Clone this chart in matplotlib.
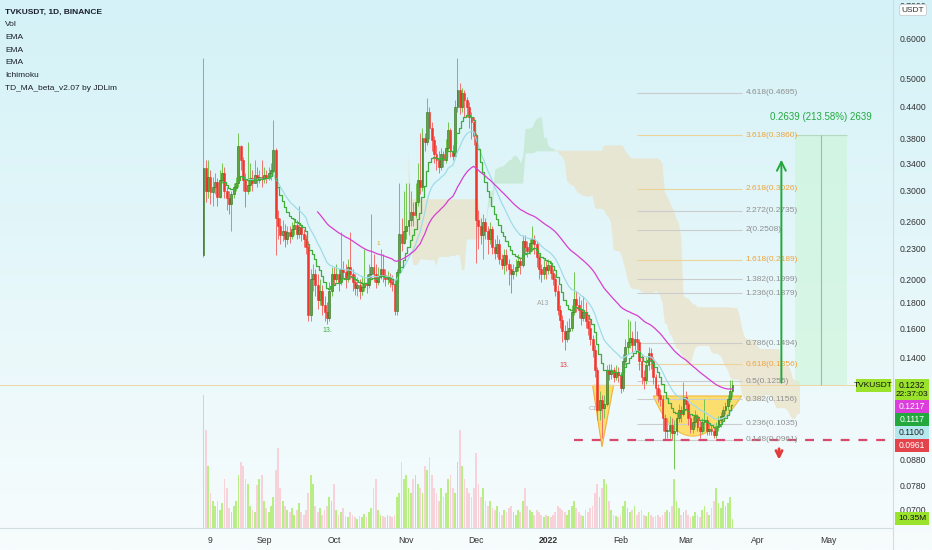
import numpy as np
import pandas as pd
import matplotlib
matplotlib.use("Agg")
import matplotlib.pyplot as plt
import matplotlib.dates as mdates
from matplotlib.patches import Rectangle, Polygon
from matplotlib.colors import LinearSegmentedColormap

plt.rcParams['font.family'] = ['Liberation Sans Narrow', 'Liberation Sans', 'DejaVu Sans']

# daily candles, TVKUSDT 1D (Binance), starting 2021-08-06
start_date = "2021-08-06"
first_open = 0.224

closes = [
    0.333, 0.300, 0.320, 0.298, 0.305, 0.312, 0.292, 0.315, 0.325, 0.300, 0.290, 0.282, 0.295,
    0.305, 0.310, 0.368, 0.345, 0.315, 0.300, 0.308, 0.318, 0.310, 0.322, 0.315, 0.320, 0.316,
    # Sep
    0.322, 0.318, 0.325, 0.330, 0.362, 0.265, 0.255, 0.245, 0.250, 0.240, 0.248, 0.244, 0.252, 0.256, 0.246,
    0.254, 0.246, 0.240, 0.232, 0.170, 0.200, 0.205, 0.195, 0.182, 0.190, 0.178, 0.172, 0.168, 0.190, 0.205,
    # Oct
    0.200, 0.205, 0.198, 0.210, 0.207, 0.200, 0.212, 0.205, 0.198, 0.192, 0.195, 0.190, 0.193, 0.197, 0.195, 0.205,
    0.212, 0.205, 0.198, 0.202, 0.210, 0.204, 0.200, 0.202, 0.198, 0.196, 0.173, 0.207, 0.246, 0.236, 0.250,
    # Nov
    0.255, 0.262, 0.272, 0.268, 0.285, 0.315, 0.305, 0.381, 0.375, 0.430, 0.400, 0.378, 0.355, 0.345, 0.335,
    0.355, 0.345, 0.365, 0.396, 0.360, 0.352, 0.440, 0.475, 0.440, 0.468, 0.455, 0.440, 0.420, 0.410, 0.385,
    # Dec
    0.262, 0.255, 0.245, 0.260, 0.250, 0.240, 0.252, 0.232, 0.226, 0.235, 0.220, 0.214, 0.224, 0.215, 0.210, 0.205,
    0.208, 0.212, 0.218, 0.214, 0.238, 0.232, 0.228, 0.236, 0.240, 0.235, 0.222, 0.210, 0.205, 0.212, 0.209,
    # Jan
    0.214, 0.206, 0.200, 0.190, 0.174, 0.166, 0.158, 0.152, 0.158, 0.160, 0.172, 0.183, 0.178, 0.174, 0.168, 0.172,
    0.165, 0.160, 0.152, 0.145, 0.132, 0.110, 0.115, 0.111, 0.113, 0.132, 0.130, 0.132, 0.128, 0.131, 0.129,
    # Feb
    0.122, 0.138, 0.147, 0.150, 0.153, 0.148, 0.152, 0.150, 0.138, 0.128, 0.126, 0.135, 0.143, 0.138,
    0.128, 0.122, 0.118, 0.116, 0.106, 0.100, 0.100, 0.103, 0.099, 0.100, 0.106, 0.110, 0.108, 0.117,
    # Mar
    0.113, 0.106, 0.101, 0.104, 0.107, 0.102, 0.100, 0.104, 0.105, 0.100, 0.101,
    0.100, 0.098, 0.102, 0.105, 0.107, 0.110, 0.112, 0.116, 0.120, 0.1232,
]

highs = [
    0.55, 0.345, 0.345, 0.33, 0.32, 0.325, 0.318, 0.33, 0.34, 0.335, 0.305, 0.30, 0.30,
    0.31, 0.32, 0.39, 0.37, 0.35, 0.325, 0.375, 0.34, 0.33, 0.345, 0.335, 0.33, 0.345,
    0.335, 0.33, 0.335, 0.34, 0.414, 0.365, 0.275, 0.265, 0.262, 0.258, 0.255, 0.255, 0.26, 0.265, 0.262,
    0.28, 0.258, 0.252, 0.245, 0.238, 0.21, 0.215, 0.21, 0.205, 0.20, 0.195, 0.185, 0.18, 0.198, 0.212,
    0.212, 0.215, 0.21, 0.248, 0.218, 0.215, 0.22, 0.248, 0.21, 0.205, 0.202, 0.20, 0.202, 0.23, 0.205, 0.215,
    0.27, 0.225, 0.215, 0.212, 0.23, 0.225, 0.21, 0.208, 0.206, 0.204, 0.20, 0.21, 0.31, 0.265, 0.30,
    0.31, 0.31, 0.30, 0.285, 0.31, 0.34, 0.39, 0.40, 0.39, 0.458, 0.44, 0.41, 0.385, 0.37, 0.36,
    0.365, 0.36, 0.38, 0.41, 0.40, 0.37, 0.455, 0.55, 0.49, 0.48, 0.475, 0.46, 0.45, 0.43, 0.42,
    0.39, 0.275, 0.265, 0.27, 0.265, 0.255, 0.26, 0.255, 0.24, 0.245, 0.24, 0.225, 0.23, 0.23, 0.22, 0.215,
    0.215, 0.22, 0.225, 0.222, 0.245, 0.245, 0.238, 0.24, 0.255, 0.245, 0.238, 0.225, 0.215, 0.22, 0.218,
    0.22, 0.218, 0.21, 0.205, 0.195, 0.178, 0.17, 0.162, 0.165, 0.168, 0.178, 0.207, 0.19, 0.185, 0.182, 0.185,
    0.18, 0.17, 0.168, 0.155, 0.148, 0.134, 0.12, 0.118, 0.118, 0.135, 0.136, 0.136, 0.134, 0.135, 0.134,
    0.131, 0.142, 0.152, 0.167, 0.165, 0.158, 0.165, 0.158, 0.152, 0.142, 0.132, 0.14, 0.147, 0.146,
    0.14, 0.13, 0.124, 0.121, 0.118, 0.108, 0.106, 0.107, 0.106, 0.105, 0.109, 0.113, 0.112, 0.125,
    0.12, 0.115, 0.108, 0.107, 0.11, 0.108, 0.105, 0.106, 0.116, 0.107, 0.104,
    0.103, 0.102, 0.104, 0.107, 0.109, 0.112, 0.114, 0.118, 0.126, 0.126,
]

lows = [
    0.222, 0.285, 0.29, 0.282, 0.28, 0.295, 0.28, 0.29, 0.31, 0.29, 0.275, 0.27, 0.25,
    0.29, 0.30, 0.305, 0.33, 0.30, 0.278, 0.295, 0.30, 0.30, 0.31, 0.305, 0.31, 0.305,
    0.31, 0.31, 0.315, 0.315, 0.325, 0.224, 0.24, 0.235, 0.238, 0.232, 0.235, 0.236, 0.24, 0.245, 0.24,
    0.242, 0.238, 0.232, 0.225, 0.165, 0.165, 0.19, 0.185, 0.175, 0.178, 0.17, 0.165, 0.163, 0.165, 0.185,
    0.195, 0.198, 0.19, 0.195, 0.20, 0.192, 0.198, 0.20, 0.19, 0.186, 0.185, 0.183, 0.186, 0.19, 0.188, 0.192,
    0.20, 0.198, 0.192, 0.195, 0.20, 0.198, 0.194, 0.196, 0.193, 0.19, 0.17, 0.17, 0.205, 0.228, 0.235,
    0.24, 0.245, 0.255, 0.255, 0.265, 0.28, 0.295, 0.30, 0.36, 0.37, 0.38, 0.36, 0.34, 0.33, 0.325,
    0.33, 0.335, 0.34, 0.36, 0.35, 0.345, 0.35, 0.43, 0.425, 0.43, 0.42, 0.42, 0.40, 0.38, 0.37,
    0.216, 0.23, 0.235, 0.22, 0.24, 0.225, 0.235, 0.225, 0.22, 0.222, 0.215, 0.21, 0.205, 0.208, 0.195, 0.188,
    0.2, 0.203, 0.208, 0.205, 0.212, 0.225, 0.222, 0.225, 0.228, 0.225, 0.212, 0.2, 0.198, 0.2, 0.2,
    0.205, 0.2, 0.195, 0.185, 0.17, 0.16, 0.15, 0.145, 0.15, 0.152, 0.158, 0.17, 0.172, 0.168, 0.162, 0.165,
    0.16, 0.155, 0.148, 0.14, 0.128, 0.105, 0.105, 0.097, 0.106, 0.112, 0.126, 0.127, 0.125, 0.126, 0.125,
    0.119, 0.12, 0.135, 0.142, 0.146, 0.143, 0.145, 0.144, 0.132, 0.124, 0.121, 0.124, 0.132, 0.133,
    0.124, 0.118, 0.114, 0.112, 0.1, 0.096, 0.097, 0.097, 0.096, 0.084, 0.098, 0.104, 0.104, 0.107,
    0.11, 0.103, 0.099, 0.099, 0.102, 0.1, 0.097, 0.099, 0.1, 0.098, 0.098,
    0.098, 0.097, 0.097, 0.1, 0.102, 0.105, 0.108, 0.11, 0.114, 0.117,
]

# volume in millions
volumes = [
    150, 110, 70, 40, 30, 25, 30, 20, 28, 55, 45, 22, 18, 25, 30, 60, 75, 70, 55, 50, 25, 20, 18, 48, 55, 60,
    30, 22, 18, 25, 35, 65, 90, 45, 30, 25, 20, 18, 22, 15, 20, 28, 18, 15, 20, 40, 60, 50, 25, 18, 22, 15, 20, 25, 35, 30,
    50, 20, 15, 18, 22, 14, 12, 18, 15, 12, 10, 14, 12, 16, 12, 18, 22, 45, 55, 20, 15, 14, 12, 15, 13, 12, 15, 35, 40, 75, 55,
    60, 45, 40, 55, 60, 50, 45, 40, 70, 65, 80, 60, 45, 40, 30, 45, 35, 40, 55, 60, 45, 40, 75, 110, 70, 55, 45, 40, 35, 45,
    85, 50, 35, 45, 30, 25, 30, 22, 20, 25, 18, 15, 20, 18, 22, 25, 18, 15, 20, 18, 30, 45, 25, 20, 18, 15, 20, 18, 15, 12, 15,
    14, 12, 15, 18, 25, 22, 20, 18, 15, 20, 25, 30, 22, 18, 15, 14, 20, 18, 22, 25, 40, 50, 35, 45, 55, 50, 30, 20, 15, 14, 12,
    15, 25, 30, 22, 18, 20, 25, 15, 18, 20, 15, 14, 18, 15, 12, 14, 15, 12, 15, 18, 20, 18, 25, 55, 30, 22, 15, 18,
    20, 15, 12, 14, 18, 15, 12, 20, 25, 18, 15, 22, 30, 45, 28, 22, 30, 25, 28, 35, 10.35,
]

# ichimoku settings (conversion, base, span B, displacement)
ichi_conv, ichi_base, ichi_spanb, ichi_disp = 10, 30, 60, 30

# fibonacci extension drawn on the chart
fib_ratios = ["4.618", "3.618", "2.618", "2.272", "2", "1.618", "1.382",
              "1.236", "0.786", "0.618", "0.5", "0.382", "0.236", "0.148"]
fib_prices = [0.4695, 0.3860, 0.3026, 0.2735, 0.2508, 0.2189, 0.1999,
              0.1879, 0.1494, 0.1356, 0.1255, 0.1156, 0.1035, 0.0961]
fib_gold = ["3.618", "2.618", "1.618", "0.618"]
fib_start, fib_end = "2022-02-08", "2022-03-25"

# long position tool / annotations
last_price = 0.1232
target_price = 0.3871
target_text = "0.2639 (213.58%) 2639"
box_start, box_mid, box_end = "2022-04-17", "2022-04-28", "2022-05-09"
up_arrow_date, up_arrow_top = "2022-04-11", 0.350
down_arrow_date, down_arrow_prices = "2022-04-10", (0.0934, 0.0866)
stop_price, stop_start = 0.0961, "2022-01-12"
tri_dates = ["2022-01-20", "2022-01-29", "2022-01-24"]
tri_prices = [0.1232, 0.1232, 0.0930]
bowl_dates = ["2022-02-15", "2022-03-04", "2022-03-25"]
bowl_prices = [0.1174, 0.0977, 0.1174]

price_ticks = [0.7, 0.6, 0.5, 0.44, 0.38, 0.34, 0.30, 0.26, 0.23, 0.20, 0.18, 0.16, 0.14, 0.088, 0.078, 0.07]
time_ticks = ["2021-08-09", "2021-09-01", "2021-10-01", "2021-11-01", "2021-12-01",
              "2022-01-01", "2022-02-01", "2022-03-01", "2022-04-01", "2022-05-01"]
time_labels = ["9", "Sep", "Oct", "Nov", "Dec", "2022", "Feb", "Mar", "Apr", "May"]
legend_lines = ["TVKUSDT, 1D, BINANCE", "Vol", "EMA", "EMA", "EMA", "Ichimoku", "TD_MA_beta_v2.07 by JDLim"]

# right side price badges: (value, background, text colour)
badges = [(0.1232, "#9be22d", "#111111"), (0.1217, "#dc3fdc", "white"),
          (0.1117, "#22a83c", "white"), (0.1100, "#b6e8ef", "#222222"), (0.0961, "#e5434c", "white")]
countdown = "22:37:03"
vol_label = "10.35M"


def dnum(s):
    return mdates.date2num(pd.Timestamp(s))


W, H = 932, 550
fig = plt.figure(figsize=(W / 100, H / 100), dpi=100)

# background gradient
bg = fig.add_axes([0, 0, 1, 1])
bg_cmap = LinearSegmentedColormap.from_list("bg", ["#f7fcfd", "#d4f2f7"])
bg.imshow(np.linspace(0, 1, 256).reshape(-1, 1), aspect="auto", cmap=bg_cmap,
          extent=[0, 1, 0, 1], origin="lower")
bg.axis("off")
bg.set_zorder(0)

rect = [0, 22 / H, 893 / W, 528 / H]
ax_v = fig.add_axes(rect)
ax = fig.add_axes(rect)
ax_v.set_zorder(1)
ax.set_zorder(2)
ax_v.patch.set_alpha(0)
ax.patch.set_alpha(0)

dates = pd.date_range(start_date, periods=len(closes), freq="D")
x = mdates.date2num(dates)
c = np.array(closes)
o = np.array([first_open] + closes[:-1])
hi = np.maximum(np.array(highs), np.maximum(o, c))
lo = np.minimum(np.array(lows), np.minimum(o, c))
up = c >= o

x_left = x[0] - 87.3
x_right = x[0] + 295.9

# volume
ax_v.bar(x, volumes, width=0.75, color=np.where(up, "#b9ee86", "#f8d2d9"), linewidth=0)
ax_v.set_xlim(x_left, x_right)
ax_v.set_ylim(0, max(volumes) * 3.97)
ax_v.axis("off")

ax.set_yscale("log")
ax.set_xlim(x_left, x_right)
ax.set_ylim(0.0642, 0.717)

# ichimoku cloud
hs, ls = pd.Series(hi), pd.Series(lo)
tenkan = (hs.rolling(ichi_conv).max() + ls.rolling(ichi_conv).min()) / 2
kijun = (hs.rolling(ichi_base).max() + ls.rolling(ichi_base).min()) / 2
span_a = ((tenkan + kijun) / 2).values
span_b = ((hs.rolling(ichi_spanb).max() + ls.rolling(ichi_spanb).min()) / 2).values
cx = x + ichi_disp - 1
ok = ~np.isnan(span_b)
ax.fill_between(cx[ok], span_a[ok], span_b[ok], where=span_a[ok] >= span_b[ok],
                color="#c2e6cd", alpha=0.7, lw=0, interpolate=True, zorder=1)
ax.fill_between(cx[ok], span_a[ok], span_b[ok], where=span_a[ok] < span_b[ok],
                color="#ebdfc0", alpha=0.65, lw=0, interpolate=True, zorder=1)

# patterns
tri = Polygon(list(zip([dnum(d) for d in tri_dates], tri_prices)), closed=True,
              facecolor="#ffd84a", edgecolor="#f0a020", alpha=0.8, lw=0.8, zorder=2)
ax.add_patch(tri)
bx = np.array([dnum(d) for d in bowl_dates])
by = np.log(np.array(bowl_prices))
t = np.linspace(0, 1, 60)
cxp = 2 * bx[1] - (bx[0] + bx[2]) / 2
cyp = 2 * by[1] - (by[0] + by[2]) / 2
curve_x = (1 - t) ** 2 * bx[0] + 2 * (1 - t) * t * cxp + t ** 2 * bx[2]
curve_y = np.exp((1 - t) ** 2 * by[0] + 2 * (1 - t) * t * cyp + t ** 2 * by[2])
bowl = Polygon(list(zip(curve_x, curve_y)), closed=True, facecolor="#ffd84a",
               edgecolor="#f0b030", alpha=0.8, lw=0.8, zorder=2)
ax.add_patch(bowl)

# fib levels
fx0, fx1 = dnum(fib_start), dnum(fib_end)
for r, p in zip(fib_ratios, fib_prices):
    gold = r in fib_gold
    ax.hlines(p, fx0, fx1, colors="#ecd39a" if gold else "#cccccc", lw=0.8, zorder=2)
    ax.text(fx1 + 1.7, p, f"{r}({p:.4f})", va="center", ha="left", fontsize=6,
            color="#eea53a" if gold else "#8f8f8f", zorder=6)

# current price line and stop line
ax.axhline(last_price, color="#efd6a4", lw=0.7, zorder=2)
ax.hlines(stop_price, dnum(stop_start), x_right, colors="#d9496b", lw=1.6,
          linestyles=(0, (4, 4)), zorder=5)

# long position box
b0, bm, b1 = dnum(box_start), dnum(box_mid), dnum(box_end)
ax.add_patch(Rectangle((b0, last_price), b1 - b0, target_price - last_price,
                       facecolor="#c9f5d3", alpha=0.55, lw=0, zorder=1))
ax.hlines(target_price, b0, b1, colors="#b5d9bd", lw=0.8, zorder=2)
ax.vlines(bm, last_price, target_price, colors="#7fd08f", lw=0.8, zorder=2)
ax.text(bm, 0.42, target_text, ha="center", va="center", fontsize=7, color="#25a83e", zorder=6)
ax.annotate("", xy=(dnum(up_arrow_date), up_arrow_top), xytext=(dnum(up_arrow_date), last_price),
            arrowprops=dict(arrowstyle="->", color="#22a83a", lw=1.4, mutation_scale=16), zorder=6)
ax.annotate("", xy=(dnum(down_arrow_date), down_arrow_prices[1]),
            xytext=(dnum(down_arrow_date), down_arrow_prices[0]),
            arrowprops=dict(arrowstyle="->", color="#e23b3b", lw=2.0, mutation_scale=11), zorder=6)

# candles
ax.vlines(x, lo, hi, colors=np.where(up, "#72c452", "#f07070"), lw=0.7, zorder=3)
body_lo = np.minimum(o, c)
body_h = np.maximum(np.abs(c - o), body_lo * 0.006)
ax.bar(x, body_h, bottom=body_lo, width=0.8, color=np.where(up, "#5ea63c", "#f0352c"),
       edgecolor=np.where(up, "#2f6a1c", "#f0352c"), lw=0.4, zorder=3)

# moving averages
cs = pd.Series(c)
ema_fast = cs.ewm(span=10, adjust=False, min_periods=10).mean()
ema_mid = cs.ewm(span=20, adjust=False, min_periods=20).mean()
ema_slow = cs.ewm(span=50, adjust=False, min_periods=50).mean()
ax.plot(x, ema_mid, color="#9fdcea", lw=0.9, zorder=4)
ax.plot(x, ema_fast, color="#3fae3a", lw=0.9, drawstyle="steps-mid", zorder=4)
ax.plot(x, ema_slow, color="#d63fd0", lw=0.9, zorder=4)

# TD sequential marks
ax.text(dnum("2021-09-28"), 0.158, "13.", fontsize=5, color="#3fae3a", ha="center", va="center", zorder=6)
ax.text(dnum("2022-01-08"), 0.1347, "13.", fontsize=5, color="#e23b3b", ha="center", va="center", zorder=6)
ax.text(dnum("2021-12-30"), 0.1795, "A13", fontsize=5, color="#a8a8a8", ha="center", va="center", zorder=6)
ax.text(dnum("2021-10-20"), 0.236, "1", fontsize=4.5, color="#e8a030", ha="center", va="center", zorder=6)
ax.text(dnum("2022-01-20"), 0.1110, "C1", fontsize=4.5, color="#a8a8a8", ha="center", va="center", zorder=6)

# axes styling
ax.yaxis.tick_right()
ax.set_yticks(price_ticks)
ax.set_yticklabels([f"{p:.4f}" for p in price_ticks])
ax.yaxis.set_minor_locator(matplotlib.ticker.NullLocator())
ax.tick_params(axis="y", length=0, labelsize=6.2, labelcolor="#333333", pad=5)
ax.set_xticks([dnum(d) for d in time_ticks])
ax.set_xticklabels(time_labels)
ax.tick_params(axis="x", length=0, labelsize=6.2, labelcolor="#333333", pad=6)
for lab in ax.get_xticklabels():
    if lab.get_text() == "2022":
        lab.set_fontweight("bold")
for s in ["top", "left"]:
    ax.spines[s].set_visible(False)
ax.spines["right"].set_color("#d2dde0")
ax.spines["bottom"].set_color("#d2dde0")
ax.spines["right"].set_linewidth(0.8)
ax.spines["bottom"].set_linewidth(0.8)
fig.add_artist(plt.Line2D([893 / W, 893 / W], [0, 22 / H], color="#d2dde0", lw=0.8))

# legend text
for i, line in enumerate(legend_lines):
    fig.text(5 / W, 1 - (12 + i * 12.7) / H, line, fontsize=6, color="#1b1f2a",
             va="center", ha="left", fontweight="bold" if i == 0 else "normal")

# USDT badge
fig.text(913 / W, 1 - 10 / H, "USDT", fontsize=6, color="#333333", ha="center", va="center",
         bbox=dict(boxstyle="round,pad=0.25", fc="white", ec="#c5cdd0", lw=0.6))


def img_y(axis, val):
    return H - axis.transData.transform((x_left, val))[1]


# stacked price badges on the scale
bottom_prev = -1e9
for k, (val, bgc, tc) in enumerate(badges):
    h = 21 if k == 0 else 13
    top = max(img_y(ax, val) - 6.5, bottom_prev)
    bottom_prev = top + h
    fig.add_artist(Rectangle((895 / W, 1 - (top + h) / H), 34 / W, h / H, transform=fig.transFigure,
                             facecolor=bgc, edgecolor="none", zorder=5))
    fig.text(912 / W, 1 - (top + 6.5) / H, f"{val:.4f}", fontsize=6.2, color=tc,
             ha="center", va="center", zorder=6)
    if k == 0:
        fig.text(912 / W, 1 - (top + 16) / H, countdown, fontsize=6, color=tc,
                 ha="center", va="center", zorder=6)

# symbol tag on price line
py = img_y(ax, last_price)
fig.add_artist(Rectangle((856 / W, 1 - (py + 6.5) / H), 35 / W, 13 / H, transform=fig.transFigure,
                         facecolor="#9be22d", edgecolor="none", zorder=5))
fig.text(873.5 / W, 1 - py / H, "TVKUSDT", fontsize=6, color="#111111", ha="center", va="center", zorder=6)

# volume badge
vy = img_y(ax_v, volumes[-1])
fig.add_artist(Rectangle((895 / W, 1 - (vy + 6.5) / H), 34 / W, 13 / H, transform=fig.transFigure,
                         facecolor="#9be22d", edgecolor="none", zorder=5))
fig.text(912 / W, 1 - vy / H, vol_label, fontsize=6, color="#111111", ha="center", va="center", zorder=6)

fig.savefig("out.png", dpi=100)
